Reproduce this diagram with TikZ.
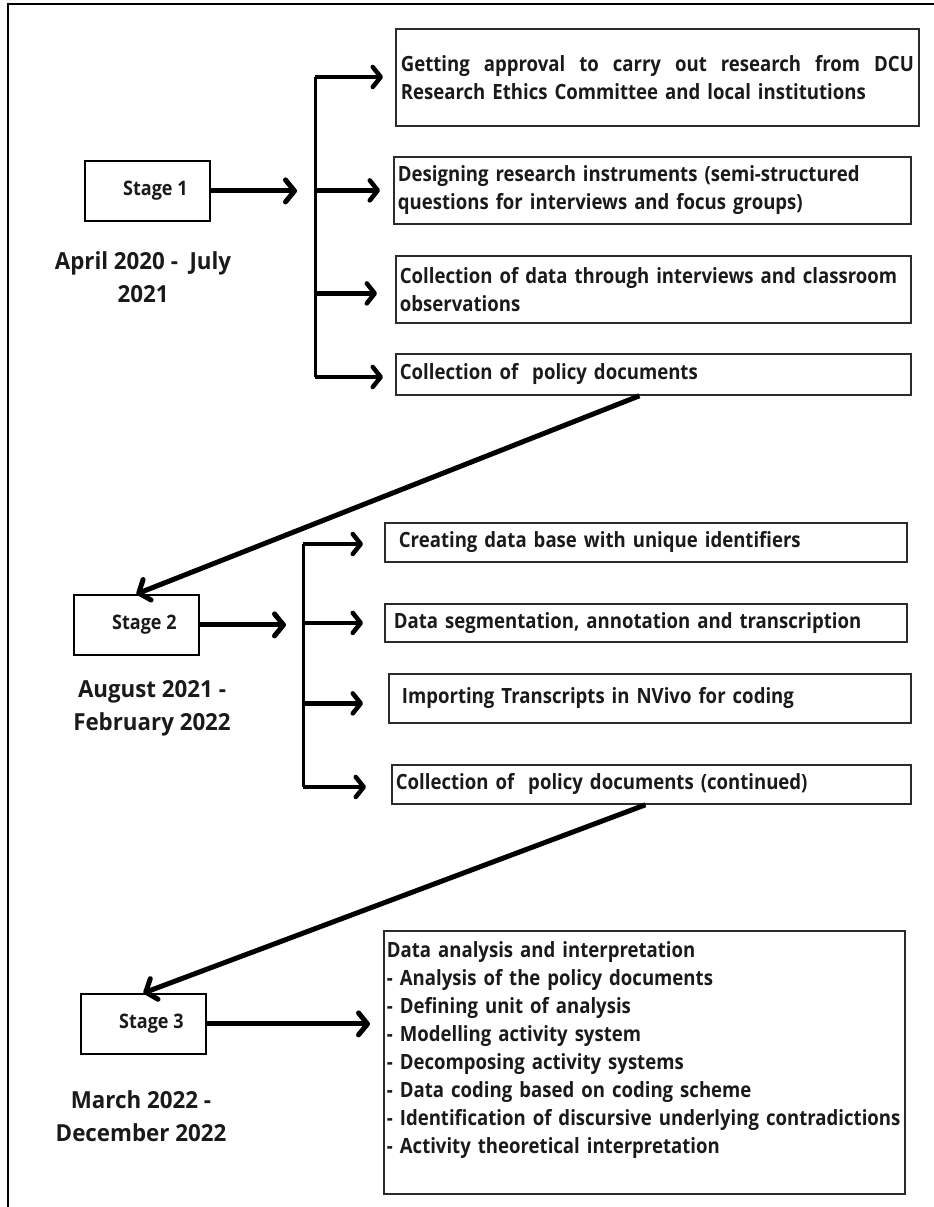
\documentclass[tikz,border=0pt]{standalone}
\usepackage{fontspec}
\setmainfont{Open Sans}[FakeStretch=0.9]
\newfontfamily\boxfont{Open Sans Bold}[FakeStretch=0.885]
\newfontfamily\datefont{Open Sans Bold}[FakeStretch=0.95]
\usetikzlibrary{arrows.meta}
\definecolor{ink}{HTML}{1A1A1A}
\definecolor{edge}{HTML}{2B2B2B}

\begin{document}
\begin{tikzpicture}[x=1pt,y=-1pt,
  frame/.style={line width=2.5pt, draw=black},
  task/.style={draw=edge, line width=1.8pt, rectangle, anchor=north west,
    align=left, inner ysep=0pt, text=ink,
    font=\boxfont\fontsize{21}{28}\selectfont},
  stagebox/.style={draw=black, line width=1.8pt, rectangle, anchor=north west,
    minimum width=125pt, minimum height=60pt, inner sep=0pt, text=ink,
    font=\bfseries\fontsize{20}{24}\selectfont},
  period/.style={align=center, text=ink, font=\datefont\fontsize{23.5}{33}\selectfont},
  bus/.style={line width=3pt},
  branch/.style={line width=4.5pt, -{Straight Barb[length=8pt,width=20pt,round]}},
  advance/.style={line width=5pt, -{Straight Barb[length=9pt,width=22pt,round]}}
]
\useasboundingbox (0,0) rectangle (934,1207);

% page frame (left and top edges)
\coordinate (fbl) at (8,1212);
\coordinate (ftl) at (8,4);
\coordinate (ftr) at (940,4);
\draw[frame] (fbl) -- (ftl) -- (ftr);

% ---------------- Stage 1 ----------------
\node[stagebox] (S1) at (84,160) {\hspace*{16pt}Stage 1};
\node[period] (P1) at (143,277) {April 2020 -~ July\\2021};

\node[task, minimum width=523pt, minimum height=97pt, text width=513pt, inner xsep=5pt] (A1) at (395,28)
  {\hbox to 513pt{Getting\hfill approval\hfill to\hfill carry\hfill out\hfill research\hfill from\hfill DCU}\\
   Research Ethics Committee and local institutions};
\node[task, minimum width=517pt, minimum height=67pt, text width=509pt, inner xsep=4pt] (A2) at (393,156)
  {Designing research instruments (semi-structured\\questions for interviews and focus groups)};
\node[task, minimum width=515pt, minimum height=67pt, text width=507pt, inner xsep=4pt] (A3) at (395,255)
  {Collection of data through interviews and classroom\\observations};
\node[task, minimum width=515pt, minimum height=41pt, text width=507pt, inner xsep=4pt] (A4) at (395,353)
  {Collection of~ policy documents};

\coordinate (bus1top) at (315,77);
\coordinate (bus1bot) at (315,377);
\draw[bus] (bus1top) -- (bus1bot);
\draw[advance, shorten >=18pt] (S1.east) -- (S1.east -| bus1top);
\draw[branch, shorten >=12pt] (bus1top) -- (bus1top -| A1.west);
\draw[branch, shorten >=13pt] (bus1top |- A2.west) -- (A2.west);
\draw[branch, shorten >=18pt] ([yshift=-4pt]bus1top |- A3.west) -- ([yshift=-4pt]A3.west);
\draw[branch, shorten >=12pt] (bus1bot) -- (bus1bot -| A4.west);

% ---------------- Stage 2 ----------------
\node[stagebox] (S2) at (73,594) {\hspace*{16pt}Stage 2};
\node[period] (P2) at (152,708) {August 2021 -\\February 2022};

\node[task, minimum width=522pt, minimum height=39pt, text width=494pt, inner xsep=14pt] (B1) at (384,522)
  {Creating data base with unique identifiers};
\node[task, minimum width=522pt, minimum height=38pt, text width=504pt, inner xsep=9pt] (B2) at (384,603)
  {Data segmentation, annotation and transcription};
\node[task, minimum width=522pt, minimum height=49pt, text width=496pt, inner xsep=13pt] (B3) at (388,673)
  {Importing Transcripts in NVivo for coding};
\node[task, minimum width=519pt, minimum height=39pt, text width=511pt, inner xsep=4pt] (B4) at (391,764)
  {Collection of~ policy documents (continued)};

\draw[advance] ([xshift=-14pt]A4.south) -- (S2.north);

\coordinate (bus2top) at (303,544);
\coordinate (bus2bot) at (303,787);
\draw[bus] (bus2top) -- (bus2bot);
\draw[advance, shorten >=17pt] (S2.east) -- (S2.east -| bus2top);
\draw[branch, shorten >=21pt] (bus2top) -- (bus2top -| B1.west);
\draw[branch, shorten >=21pt] (bus2top |- B2.west) -- (B2.west);
\draw[branch, shorten >=25pt] ([yshift=-5pt]bus2top |- B3.west) -- ([yshift=-5pt]B3.west);
\draw[branch, shorten >=25pt] (bus2bot) -- (bus2bot -| B4.west);

% ---------------- Stage 3 ----------------
\node[stagebox] (S3) at (80,993) {\hspace*{16pt}Stage 3};
\node[period] (P3) at (141,1116) {March 2022 -\\December 2022};

\node[task, minimum width=521pt, minimum height=263pt, text width=515pt, inner xsep=3pt] (C) at (383,930)
  {Data analysis and interpretation\\
   - Analysis of the policy documents\\
   - Defining unit of analysis\\
   - Modelling activity system\\
   - Decomposing activity systems\\
   - Data coding based on coding scheme\\
   - Identification of discursive underlying contradictions\\
   - Activity theoretical interpretation\rule[-29pt]{0pt}{29pt}};

\draw[advance] ([xshift=-6pt]B4.south) -- (S3.north);
\draw[advance, shorten >=13pt] (S3.east) -- (S3.east -| C.west);

\end{tikzpicture}
\end{document}
